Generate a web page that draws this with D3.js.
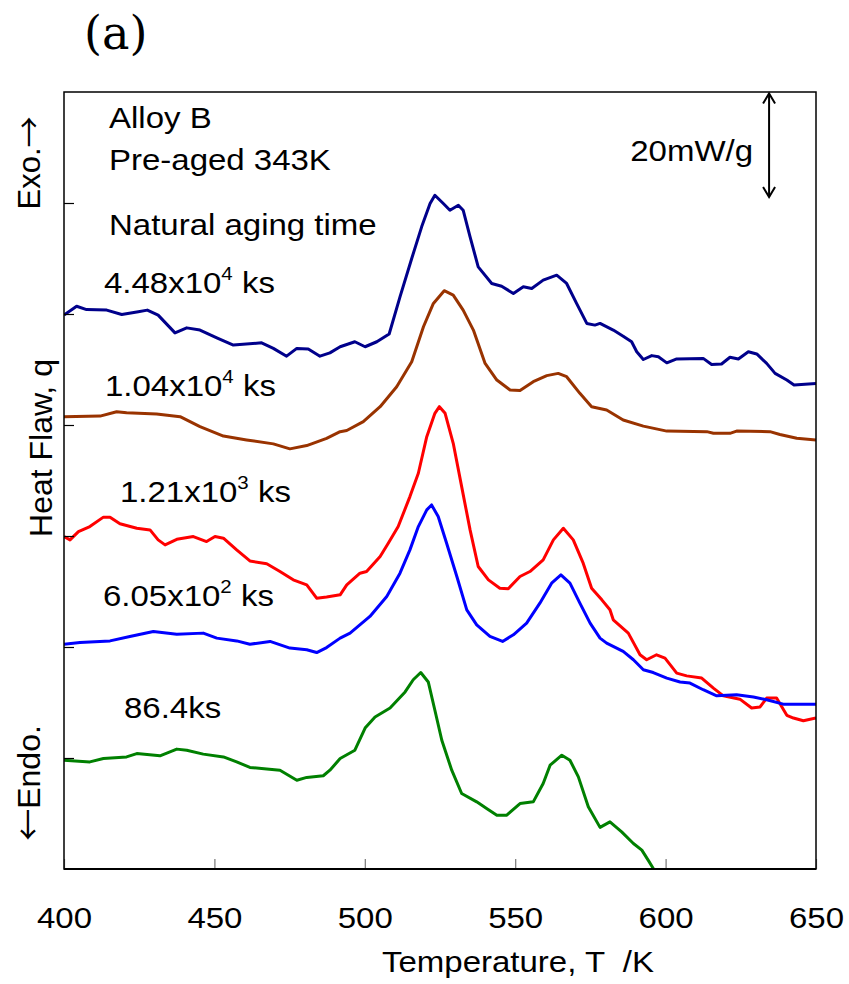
<!DOCTYPE html>
<html>
<head>
<meta charset="utf-8">
<script src="https://cdn.jsdelivr.net/npm/d3@7"></script>
<style>
  body { margin: 0; background: #fff; }
  svg { display: block; }
  text { font-family: "Liberation Sans", Arial, sans-serif; fill: #000; }
</style>
</head>
<body>
<svg id="chart" width="849" height="984"></svg>
<script>
// DSC traces of Alloy B, pre-aged at 343 K, for several natural aging times.
// Each point: [temperature T (K), heat flow (mW/g, curves offset vertically)].
const curve448e4 = [
  [400,99.8],[404.2,101.4],[407.5,100.8],[414.2,100.7],[419.2,99.9],[424.7,100.4],[427.7,100.7],
  [431.3,99.8],[436.9,96.6],[440.8,97.5],[445.2,97.1],[450.8,95.7],[456.3,94.4],[465.7,94.8],
  [469.6,93.8],[474.0,92.4],[477.4,93.8],[481.2,93.7],[485.1,92.4],[488.4,93.0],[491.8,94.1],
  [496.7,95.0],[500.1,94.1],[504.0,95.0],[508.1,96.4],[511.7,103.1],[515.6,110.0],[518.9,115.7],
  [521.7,119.9],[523.3,121.4],[526.1,119.9],[528.3,118.7],[531.1,119.6],[532.7,118.7],[535.0,113.9],
  [537.7,108.5],[542.2,105.5],[545.5,105.0],[549.4,103.7],[552.7,104.9],[555.5,104.6],[559.3,106.1],
  [563.8,107.0],[567.1,105.5],[570.4,101.9],[573.8,98.3],[576.5,98.0],[578.2,98.3],[582.6,97.1],
  [585.9,96.0],[588.7,95.0],[590.4,93.2],[592.6,91.8],[595.4,92.5],[597.6,92.3],[600.4,91.2],
  [603.7,91.9],[612.5,92.0],[615.3,90.9],[618.6,91.0],[621.4,92.2],[624.2,91.9],[627.5,93.2],
  [630.3,92.8],[633.6,91.1],[636.4,89.3],[640.3,88.1],[642.7,87.2],[650,87.5]
];
const curve104e4 = [
  [400,81.5],[412.0,81.6],[417.5,82.4],[420.8,82.2],[430.8,82.0],[438.6,81.5],[445.2,79.7],
  [453.0,78.0],[460.7,77.3],[469.6,76.6],[475.1,75.7],[480.7,76.3],[487.3,77.6],[491.8,78.8],
  [494.0,79.0],[499.5,80.6],[505.1,83.3],[510.6,86.9],[515.6,91.4],[519.5,97.7],[522.8,101.9],
  [526.4,104.2],[529.4,103.4],[532.7,100.7],[536.1,97.1],[540.0,91.1],[543.9,88.1],[548.3,86.3],
  [551.6,86.2],[556.0,87.8],[560.5,88.9],[564.3,89.3],[567.1,88.7],[571.5,85.7],[575.4,83.3],
  [580.4,82.7],[585.9,80.9],[592.6,79.8],[600.4,78.9],[613.7,78.8],[615.9,78.5],[621.4,78.5],
  [623.6,78.9],[634.7,78.8],[638.0,78.3],[643.6,77.6],[650,77.3]
];
const curve121e3 = [
  [400,59.9],[402.0,59.3],[404.8,60.8],[408.6,61.7],[413.1,63.4],[415.3,63.4],[418.6,62.2],
  [424.2,61.4],[428.6,61.1],[431.3,59.3],[433.6,58.4],[437.5,59.4],[443.0,59.9],[447.4,59.0],
  [450.2,59.9],[453.0,59.6],[457.4,57.5],[461.8,55.5],[467.4,55.0],[471.8,53.6],[476.2,52.1],
  [480.7,51.2],[484.0,48.8],[487.3,49.0],[491.8,49.4],[494.0,51.2],[498.4,53.3],[500.6,53.6],
  [505.1,56.3],[507.8,58.7],[511.1,61.7],[515.0,67.1],[517.8,71.3],[520.6,77.9],[523.3,82.1],
  [524.8,83.3],[526.7,82.1],[529.4,76.7],[532.2,68.9],[535.0,61.1],[537.7,54.5],[541.1,52.1],
  [544.9,50.6],[547.7,50.5],[551.6,52.7],[554.9,53.6],[559.3,55.7],[562.7,59.3],[566.0,61.4],
  [569.3,59.3],[572.6,55.1],[575.4,50.6],[578.8,48.5],[581.5,46.7],[582.6,44.9],[587.6,42.5],
  [591.5,38.6],[593.7,37.7],[597.0,38.6],[599.8,38.0],[603.7,35.3],[607.0,34.8],[612.0,34.4],
  [615.9,32.6],[619.2,31.2],[624.7,30.6],[628.6,29.0],[631.4,29.2],[633.6,30.8],[636.9,30.8],
  [640.3,27.7],[642.5,27.2],[645.8,26.7],[650,27.2]
];
const curve605e2 = [
  [400,40.5],[405.3,40.8],[415.3,41.1],[421.9,41.9],[429.7,42.8],[437.5,42.3],[446.3,42.5],
  [450.8,41.6],[457.4,41.1],[461.8,40.5],[468.5,41.0],[475.1,39.8],[480.7,39.5],[484.0,39.0],
  [487.3,39.9],[491.8,41.6],[495.1,42.5],[501.7,45.5],[507.3,49.1],[511.7,53.3],[515.0,57.5],
  [517.8,61.7],[520.6,64.7],[522.2,65.6],[524.4,63.5],[527.2,58.7],[530.6,52.7],[533.9,46.7],
  [537.2,44.0],[541.6,41.9],[545.8,41.0],[549.4,42.2],[553.8,44.3],[558.2,47.9],[562.1,51.5],
  [565.2,53.0],[568.2,51.5],[571.5,47.9],[574.9,44.3],[578.2,41.6],[580.4,40.7],[585.9,39.2],
  [589.3,37.7],[592.6,35.9],[595.9,35.4],[600.4,34.4],[604.8,33.7],[608.1,33.5],[612.5,32.3],
  [617.0,31.2],[623.6,31.4],[629.2,31.0],[633.6,30.5],[639.1,29.7],[643.6,29.7],[650,29.7]
];
const curve864 = [
  [400,19.6],[408.6,19.3],[413.1,19.9],[420.8,20.2],[424.2,20.8],[431.9,20.4],[437.5,21.6],
  [440.8,21.4],[446.3,20.7],[453.0,20.2],[457.4,19.3],[461.8,18.3],[467.4,18.0],[471.8,17.8],
  [477.4,16.0],[480.7,16.5],[486.2,16.8],[488.4,17.8],[491.8,19.9],[496.7,21.4],[500.1,25.4],
  [503.4,27.4],[508.4,29.0],[513.4,31.9],[516.1,34.1],[518.6,35.4],[521.1,33.7],[523.3,28.6],
  [525.6,23.2],[528.9,17.8],[532.2,13.6],[537.2,12.1],[540.5,10.9],[543.9,9.7],[547.2,9.7],
  [551.6,11.8],[556.0,12.1],[559.3,15.4],[561.6,18.7],[565.5,20.5],[568.2,19.6],[571.0,16.6],
  [574.3,11.2],[578.2,7.5],[581.5,8.5],[585.4,6.7],[589.3,4.6],[592.1,3.4],[594.2,1.6],[595.9,0.1],
  [597.5,-1.5]
];

const seriesNames  = ["4.48x10^4 ks", "1.04x10^4 ks", "1.21x10^3 ks", "6.05x10^2 ks", "86.4ks"];
const seriesColors = ["#00008b", "#993300", "#ff0000", "#0000ff", "#008000"];
const seriesData   = [curve448e4, curve104e4, curve121e3, curve605e2, curve864];

const xDomain = [400, 650];
const yDomain = [0, 140];
const xTickValues = [400, 450, 500, 550, 600, 650];
const yTickValues = [20, 40, 60, 80, 100, 120];
const scaleBarValue = 20;          // mW/g
const scaleBarTemperature = 634.4; // K, where the scale bar sits

const plot = { left: 64, right: 816, top: 92, bottom: 869 };
const FS = 30, STRETCH = 1.1;
const ARROW_FONT = "'Noto Sans CJK JP', 'DejaVu Sans', sans-serif";

const svg = d3.select("#chart");
const x = d3.scaleLinear().domain(xDomain).range([plot.left, plot.right]);
const y = d3.scaleLinear().domain(yDomain).range([plot.bottom, plot.top]);

// clip region for the traces
svg.append("defs").append("clipPath").attr("id", "plotClip")
  .append("rect")
  .attr("x", plot.left).attr("y", plot.top)
  .attr("width", plot.right - plot.left).attr("height", plot.bottom - plot.top);

// horizontally widened text helper
function label(px, py, opts = {}) {
  const t = svg.append("text")
    .attr("transform", `translate(${px},${py}) scale(${opts.stretch ?? STRETCH},1)`)
    .attr("font-size", opts.size ?? FS)
    .attr("text-anchor", opts.anchor ?? "start")
    .style("white-space", "pre");
  if (opts.family) t.style("font-family", opts.family);
  return t;
}
function writeWithSup(t, str) {
  const m = str.match(/^(.*)\^(\d+)(.*)$/);
  if (!m) { t.text(str); return; }
  t.append("tspan").text(m[1]);
  t.append("tspan").attr("font-size", FS * 0.62).attr("dy", -13).text(m[2]);
  t.append("tspan").attr("dy", 13).text(m[3]);
}

// traces
const line = d3.line().x(d => x(d[0])).y(d => y(d[1]));
svg.append("g").attr("clip-path", "url(#plotClip)")
  .selectAll("path").data(seriesData).join("path")
  .attr("d", d => line(d))
  .attr("fill", "none")
  .attr("stroke", (d, i) => seriesColors[i])
  .attr("stroke-width", 3)
  .attr("stroke-linejoin", "round");

// x axis: inward ticks, labels below
const xAxis = d3.axisBottom(x).tickValues(xTickValues)
  .tickSizeInner(-10).tickSizeOuter(0).tickPadding(38).tickFormat(d3.format("d"));
const gx = svg.append("g").attr("transform", `translate(0,${plot.bottom})`).call(xAxis);
gx.select(".domain").remove();
gx.selectAll(".tick line").attr("stroke", "#777").attr("stroke-width", 1.2);
gx.selectAll(".tick text")
  .attr("font-size", FS)
  .style("font-family", "'Liberation Sans', Arial, sans-serif")
  .attr("fill", "#000")
  .attr("transform", `scale(${STRETCH},1)`);

// y axis: inward unlabeled ticks
const yAxis = d3.axisLeft(y).tickValues(yTickValues)
  .tickSizeInner(-10).tickSizeOuter(0).tickFormat("");
const gy = svg.append("g").attr("transform", `translate(${plot.left},0)`).call(yAxis);
gy.select(".domain").remove();
gy.selectAll(".tick line").attr("stroke", "#000").attr("stroke-width", 1.2);

// frame
svg.append("rect")
  .attr("x", plot.left).attr("y", plot.top)
  .attr("width", plot.right - plot.left).attr("height", plot.bottom - plot.top)
  .attr("fill", "none").attr("stroke", "#000").attr("stroke-width", 1.5);
svg.append("line")
  .attr("x1", plot.left).attr("x2", plot.right)
  .attr("y1", plot.bottom).attr("y2", plot.bottom)
  .attr("stroke", "#000").attr("stroke-width", 2.2);

// scale bar (double-headed arrow)
const sbX = x(scaleBarTemperature);
const sbTop = y(yDomain[1]) + 1.5;
const sbBot = y(yDomain[1] - scaleBarValue) - 6;
const sb = svg.append("g").attr("stroke", "#000").attr("stroke-width", 2).attr("fill", "none");
sb.append("line").attr("x1", sbX).attr("x2", sbX).attr("y1", sbTop).attr("y2", sbBot);
sb.append("path").attr("d", `M${sbX - 6},${sbTop + 10}L${sbX},${sbTop}L${sbX + 6},${sbTop + 10}`);
sb.append("path").attr("d", `M${sbX - 6},${sbBot - 10}L${sbX},${sbBot}L${sbX + 6},${sbBot - 10}`);
label(sbX - 16, 161, { anchor: "end" }).text(`${scaleBarValue}mW/g`);

// panel tag
label(84, 49, { family: "'DejaVu Serif', 'Liberation Serif', serif", size: 47, stretch: 0.98 }).text("(a)");

// annotation block
label(109, 128).text("Alloy B");
label(109, 170).text("Pre-aged 343K");
label(109, 235).text("Natural aging time");

// trace labels
const seriesLabelPos = [[104, 293], [105, 396], [120, 502], [103, 606], [124, 718]];
seriesNames.forEach((name, i) => {
  writeWithSup(label(seriesLabelPos[i][0], seriesLabelPos[i][1]), name);
});

// axis titles
label(518, 972, { anchor: "middle" }).text("Temperature, T  /K");

function vlabel(px, py, parts, size) {
  const t = svg.append("text")
    .attr("transform", `translate(${px},${py}) rotate(-90)`)
    .attr("font-size", size).attr("text-anchor", "middle")
    .style("white-space", "pre");
  parts.forEach(p => {
    const s = t.append("tspan").text(p.text);
    if (p.arrow) s.style("font-family", ARROW_FONT);
  });
}
vlabel(52, 448, [{ text: "Heat Flaw, q" }], 32);
vlabel(40, 163, [{ text: "Exo." }, { text: "\u2192", arrow: true }], 31);
vlabel(40, 783, [{ text: "\u2190", arrow: true }, { text: "Endo." }], 32);
</script>
</body>
</html>
